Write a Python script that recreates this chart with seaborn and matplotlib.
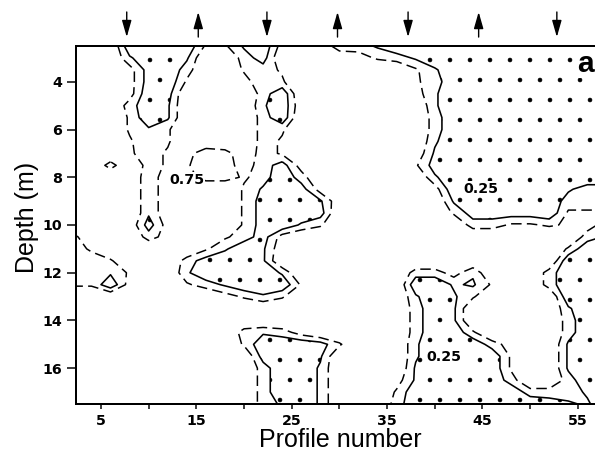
import matplotlib
matplotlib.use("Agg")
import matplotlib.pyplot as plt
import numpy as np
import seaborn as sns

# ---------------- data ----------------
# grid of the mapped quantity (one digit per grid node, 0 = low ... 9 = high)
profiles = [2, 4, 6, 8, 10, 12, 14, 16, 18, 20, 22, 24, 26, 28, 30,
            32, 34, 36, 38, 40, 42, 44, 46, 48, 50, 52, 54, 56, 58]
depths = [2.5, 3.0, 3.5, 4.0, 4.5, 5.0, 5.5, 6.0, 6.5, 7.0, 7.5, 8.0,
          8.5, 9.0, 9.5, 10.0, 10.5, 11.0, 11.5, 12.0, 12.5, 13.0, 13.5,
          14.0, 14.5, 15.0, 15.5, 16.0, 16.5, 17.0, 17.5]
field_rows = [
    "99900006620799342000000000000",  # 2.5
    "99930029941999975420000000000",  # 3.0
    "99971049954699999963000000000",  # 3.5
    "99971069973599999964000000000",  # 4.0
    "99970199994099999973000000000",  # 4.5
    "99940299993089999993000000000",  # 5.0
    "99950299994099999994000000000",  # 5.5
    "99953599994599999994000000000",  # 6.0
    "99963599994699999993000000000",  # 6.5
    "99964673484699999982000000000",  # 7.0
    "99494663474179999961000000000",  # 7.5
    "99993874464049999993000000000",  # 8.0
    "99993899952017999997000000244",  # 8.5
    "99993899951002899999200000444",  # 9.0
    "99993899951001999999511110666",  # 9.5
    "99981799951035999999944665674",  # 10.0
    "49994799641799999999999999942",  # 10.5
    "46999996302899999999999999500",  # 11.0
    "44599941002999999999999999000",  # 11.5
    "44369930000399999944739994000",  # 12.0
    "55079964200069999900326994000",  # 12.5
    "99999999753599999930259999000",  # 13.0
    "99999999999999999940299999300",  # 13.5
    "99999999999999999940299999400",  # 14.0
    "99999999943479999940059999400",  # 14.5
    "99999999950001599930004799200",  # 15.0
    "99999999991002999930000699200",  # 15.5
    "99999999994003999920000699200",  # 16.0
    "99999999994003999720000499400",  # 16.5
    "99999999994003999500000044420",  # 17.0
    "99999999994203999400000001230",  # 17.5
]
solid_level = 2.5
dashed_level = 5.5

xtick_values = [5, 15, 25, 35, 45, 55]
xminor_values = [10, 20, 30, 40, 50]
ytick_values = [4, 6, 8, 10, 12, 14, 16]

arrow_profiles = [7.7, 15.2, 22.4, 29.8, 37.2, 44.6, 52.8]
arrow_directions = ["down", "up", "down", "up", "down", "up", "down"]

label_texts = ["0.75", "0.25", "0.25"]
label_profiles = [14.0, 44.8, 41.0]
label_depths = [8.1, 8.5, 15.55]

# ---------------- styling ----------------
DPI = 120


def pt(px):
    """convert a size in output pixels to points"""
    return px * 72.0 / DPI


sns.set_theme(style="ticks")
plt.rcParams["font.family"] = ["Liberation Sans", "DejaVu Sans"]
plt.rcParams["hatch.color"] = "black"
plt.rcParams["hatch.linewidth"] = pt(0.5)

fig = plt.figure(figsize=(595 / DPI, 452 / DPI), dpi=DPI)
ax = fig.add_axes([76 / 595, 48 / 452, 519 / 595, 358 / 452])

Z = np.array([[int(c) for c in row] for row in field_rows], dtype=float)
P, D = np.meshgrid(profiles, depths)

filled = ax.contourf(P, D, Z, levels=[-1, solid_level], colors="none",
                     hatches=["."])
filled.set_edgecolor("black")
filled.set_linewidth(0)
ax.contour(P, D, Z, levels=[solid_level], colors="black",
           linewidths=pt(1.6), linestyles="solid")
ax.contour(P, D, Z, levels=[dashed_level], colors="black",
           linewidths=pt(1.5), linestyles=[(0, (7, 3.5))])

ax.set_xlim(2.38, 56.8)
ax.set_ylim(17.5, 2.5)

tick_font = dict(family="DejaVu Sans", weight="bold", size=pt(14.2))
ax.set_xticks(xtick_values)
ax.set_xticks(xminor_values, minor=True)
ax.set_xticklabels([str(v) for v in xtick_values], fontdict=tick_font)
ax.set_yticks(ytick_values)
ax.set_yticklabels([str(v) for v in ytick_values], fontdict=tick_font)
ax.tick_params(axis="both", which="both", direction="out", width=pt(1.5),
               color="black", labelcolor="black")
ax.tick_params(axis="x", which="both", length=pt(5), pad=pt(5))
ax.tick_params(axis="y", which="major", length=pt(9), pad=pt(5))

for side in ["left", "bottom", "top"]:
    ax.spines[side].set_visible(True)
    ax.spines[side].set_color("black")
    ax.spines[side].set_linewidth(pt(2))
ax.spines["right"].set_visible(False)

ax.set_xlabel("Profile number", fontsize=pt(25), color="black")
ax.set_ylabel("Depth (m)", fontsize=pt(25), color="black")
ax.xaxis.set_label_coords(0.509, -0.068)
ax.yaxis.set_label_coords(-0.072, 0.52)

for t, p, d in zip(label_texts, label_profiles, label_depths):
    ax.text(p, d, t, ha="center", va="center", fontdict=tick_font,
            color="black",
            bbox=dict(facecolor="white", edgecolor="none", pad=pt(1)))

ax.text(0.997, 0.951, "a", transform=ax.transAxes, ha="right", va="center",
        fontsize=pt(30), fontweight="bold", color="black",
        bbox=dict(facecolor="white", edgecolor="none", pad=pt(1)))

for p, direc in zip(arrow_profiles, arrow_directions):
    top, bot = 1.095, 1.025
    if direc == "down":
        xy, xytext = (p, bot), (p, top)
    else:
        xy, xytext = (p, top), (p, bot)
    ax.annotate("", xy=xy, xytext=xytext,
                xycoords=("data", "axes fraction"),
                textcoords=("data", "axes fraction"),
                arrowprops=dict(arrowstyle="-|>,head_length=0.7,head_width=0.2",
                                mutation_scale=pt(20),
                                color="black", lw=pt(1.4), shrinkA=0, shrinkB=0),
                annotation_clip=False)

fig.savefig("out.png", dpi=DPI)
